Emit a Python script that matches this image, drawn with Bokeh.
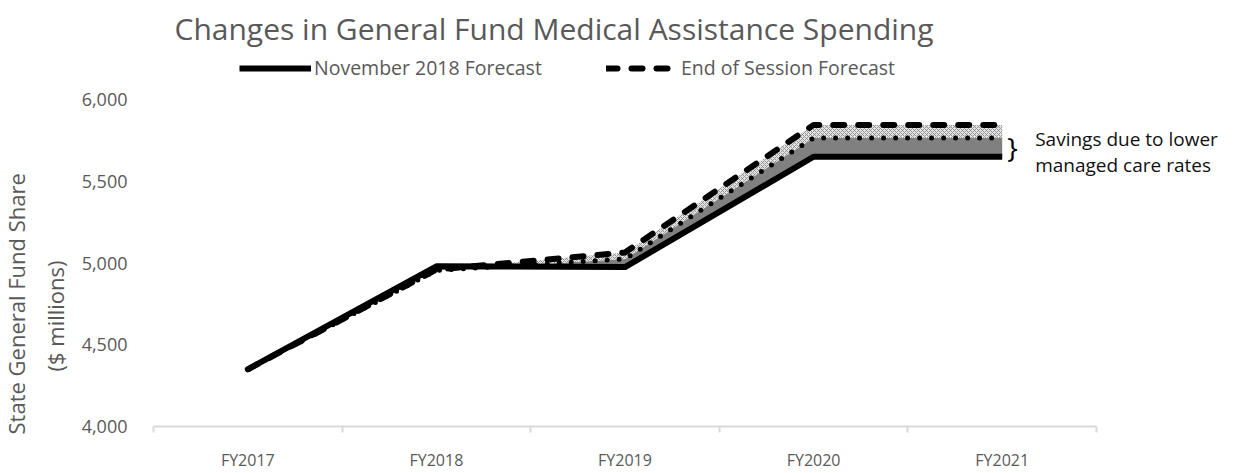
from bokeh.plotting import figure
from bokeh.models import (Range1d, FixedTicker, Legend, LegendItem, Label, Title,
                          NumeralTickFormatter)
from bokeh.embed import file_html
from bokeh.resources import INLINE

categories = ["FY2017", "FY2018", "FY2019", "FY2020", "FY2021"]
november_2018 = [4350, 4980, 4975, 5650, 5650]
intermediate = [4350, 4955, 5025, 5765, 5765]
end_of_session = [4350, 4960, 5065, 5845, 5845]
y_ticks = [4000, 4500, 5000, 5500, 6000]
title_text = "Changes in General Fund Medical Assistance Spending"
y_title_lines = ["State General Fund Share", "($ millions)"]
note_lines = ["Savings due to lower", "managed care rates"]

FONT = "Open Sans"
TXT = "#595959"
x = list(range(1, len(categories) + 1))

# frame is extended above/right of the axes so the legend and note are not clipped
p = figure(width=1233, height=473, output_backend="svg", toolbar_location=None,
           x_range=Range1d(0.5, len(categories) + 1.184), y_range=Range1d(4000, 6300),
           min_border_left=153, min_border_right=8, min_border_top=50, min_border_bottom=38)
p.outline_line_color = None
p.xgrid.visible = False
p.ygrid.visible = False
p.background_fill_color = "white"
p.border_fill_color = "white"

p.title.text = title_text
p.title.text_font = FONT
p.title.text_font_size = "30px"
p.title.text_font_style = "normal"
p.title.text_color = TXT
p.title.align = "left"
p.title.offset = 21
p.title.standoff = 4

# fills
p.varea(x=x, y1=november_2018, y2=intermediate, fill_color="#808080")
p.varea(x=x, y1=intermediate, y2=end_of_session, fill_color="#e4e4e4",
        hatch_pattern="diagonal_cross", hatch_color="#808080", hatch_scale=4, hatch_weight=0.8)

solid = p.line(x, november_2018, line_width=6, line_color="black", line_join="round")
p.line(x, intermediate, line_width=5, line_color="black", line_dash="0 12", line_cap="round", line_join="round")
dashed = p.line(x, end_of_session, line_width=6, line_color="black", line_dash="11 14",
                line_cap="round", line_join="round")

# x axis
xa = p.xaxis[0]
xa.bounds = (0.5, len(categories) + 0.5)
xa.ticker = FixedTicker(ticks=x, minor_ticks=[i + 0.5 for i in range(len(categories) + 1)])
xa.major_label_overrides = {i: c for i, c in zip(x, categories)}
xa.major_tick_line_color = None
xa.major_tick_out = 0
xa.minor_tick_line_color = "#d9d9d9"
xa.minor_tick_line_width = 2
xa.minor_tick_out = 6
xa.minor_tick_in = 0
xa.axis_line_color = "#d9d9d9"
xa.axis_line_width = 2
xa.major_label_standoff = 16
xa.major_label_text_font = FONT
xa.major_label_text_font_size = "16px"
xa.major_label_text_color = TXT

# y axis
ya = p.yaxis[0]
ya.ticker = FixedTicker(ticks=y_ticks)
ya.formatter = NumeralTickFormatter(format="0,0")
ya.axis_line_color = None
ya.major_tick_line_color = None
ya.minor_tick_line_color = None
ya.major_tick_out = 0
ya.major_label_standoff = 26
ya.major_label_text_font = FONT
ya.major_label_text_font_size = "18px"
ya.major_label_text_color = TXT

# y-axis title as two lines (side-panel titles)
p.add_layout(Title(text=y_title_lines[1], align="left", offset=55, standoff=18,
                   text_font=FONT, text_font_size="22px", text_font_style="normal",
                   text_color=TXT), "left")
p.add_layout(Title(text=y_title_lines[0], align="left", offset=-8, standoff=-5,
                   text_font=FONT, text_font_size="22px", text_font_style="normal",
                   text_color=TXT), "left")

legend = Legend(items=[LegendItem(label="November 2018 Forecast", renderers=[solid]),
                       LegendItem(label="End of Session Forecast", renderers=[dashed])],
                orientation="horizontal", location=(86, 345), padding=0, margin=0,
                spacing=64, glyph_width=72, label_standoff=3,
                border_line_color=None, background_fill_alpha=0,
                label_text_font=FONT, label_text_font_size="19.5px", label_text_color=TXT)
p.add_layout(legend, "center")

mid = (november_2018[-1] + intermediate[-1]) / 2
p.add_layout(Label(x=x[-1], y=mid, x_offset=5, text="}", text_font=FONT, text_font_size="28px",
                   text_color="black", text_baseline="middle"))
p.add_layout(Label(x=x[-1], y=mid, x_offset=33, y_offset=8, text=note_lines[0], text_font=FONT,
                   text_font_size="19px", text_color="#111111", text_baseline="middle"))
p.add_layout(Label(x=x[-1], y=mid, x_offset=33, y_offset=-18, text=note_lines[1], text_font=FONT,
                   text_font_size="19px", text_color="#111111", text_baseline="middle"))

open("out.html", "w").write(file_html(p, INLINE))
